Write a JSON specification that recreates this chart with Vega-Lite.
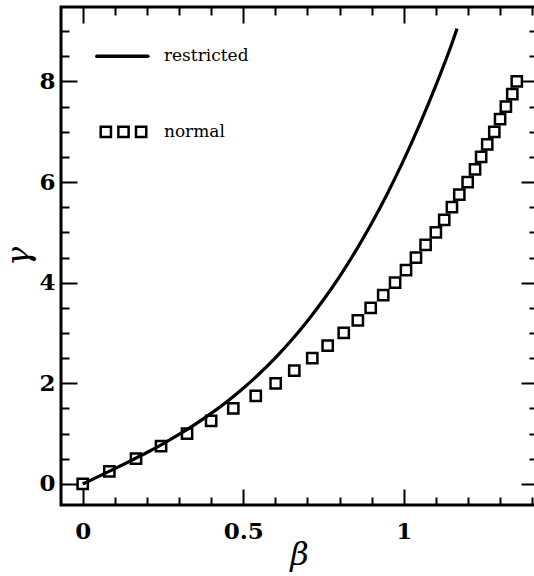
{
  "$schema": "https://vega.github.io/schema/vega-lite/v6.json",
  "width": 476,
  "height": 498,
  "autosize": {"type": "none"},
  "padding": {"left": 61, "top": 7, "right": -3, "bottom": 71},
  "background": "white",
  "config": {
    "view": {"stroke": "black", "strokeWidth": 3},
    "axis": {
      "domain": false,
      "grid": false,
      "tickColor": "black",
      "tickWidth": 2,
      "labelFont": "DejaVu Serif",
      "labelFontWeight": "bold",
      "labelFontSize": 23,
      "labelColor": "black",
      "titleColor": "black",
      "titleFont": "DejaVu Serif",
      "titleFontStyle": "italic",
      "titleFontWeight": "normal",
      "titleFontSize": 32
    }
  },
  "layer": [
    {
      "data": {"values": [
        {"b": 0, "g": 0}, {"b": 0.05, "g": 0.15}, {"b": 0.1, "g": 0.303}, {"b": 0.15, "g": 0.46},
        {"b": 0.2, "g": 0.623}, {"b": 0.25, "g": 0.797}, {"b": 0.3, "g": 0.982}, {"b": 0.35, "g": 1.183},
        {"b": 0.4, "g": 1.401}, {"b": 0.45, "g": 1.639}, {"b": 0.5, "g": 1.901}, {"b": 0.55, "g": 2.189},
        {"b": 0.6, "g": 2.506}, {"b": 0.65, "g": 2.855}, {"b": 0.7, "g": 3.239}, {"b": 0.75, "g": 3.66},
        {"b": 0.8, "g": 4.122}, {"b": 0.85, "g": 4.628}, {"b": 0.9, "g": 5.181}, {"b": 0.95, "g": 5.784},
        {"b": 1.0, "g": 6.44}, {"b": 1.05, "g": 7.152}, {"b": 1.1, "g": 7.923}, {"b": 1.15, "g": 8.755},
        {"b": 1.166, "g": 9.05}
      ]},
      "mark": {"type": "line", "color": "black", "strokeWidth": 3.2, "interpolate": "monotone"},
      "encoding": {
        "x": {"field": "b", "type": "quantitative", "scale": {"domain": [-0.0676, 1.415], "nice": false, "zero": false},
          "axis": {"orient": "bottom", "values": [0, 0.5, 1], "format": "~g", "tickSize": -16, "labelPadding": 31, "title": "β", "titlePadding": -4}},
        "y": {"field": "g", "type": "quantitative", "scale": {"domain": [-0.42, 9.48], "nice": false, "zero": false},
          "axis": {"orient": "left", "values": [0, 2, 4, 6, 8], "format": "~g", "tickSize": -16, "labelPadding": 22, "title": "γ", "titlePadding": 3}}
      }
    },
    {
      "data": {"values": [
        {"b": 0, "g": 0}, {"b": 0.083, "g": 0.25}, {"b": 0.166, "g": 0.5}, {"b": 0.244, "g": 0.75},
        {"b": 0.325, "g": 1.0}, {"b": 0.4, "g": 1.25}, {"b": 0.469, "g": 1.5}, {"b": 0.539, "g": 1.75},
        {"b": 0.601, "g": 2.0}, {"b": 0.659, "g": 2.25}, {"b": 0.715, "g": 2.5}, {"b": 0.763, "g": 2.75},
        {"b": 0.813, "g": 3.0}, {"b": 0.857, "g": 3.25}, {"b": 0.897, "g": 3.5}, {"b": 0.936, "g": 3.75},
        {"b": 0.973, "g": 4.0}, {"b": 1.007, "g": 4.25}, {"b": 1.038, "g": 4.5}, {"b": 1.068, "g": 4.75},
        {"b": 1.1, "g": 5.0}, {"b": 1.126, "g": 5.25}, {"b": 1.15, "g": 5.5}, {"b": 1.173, "g": 5.75},
        {"b": 1.199, "g": 6.0}, {"b": 1.222, "g": 6.25}, {"b": 1.241, "g": 6.5}, {"b": 1.26, "g": 6.75},
        {"b": 1.282, "g": 7.0}, {"b": 1.3, "g": 7.25}, {"b": 1.318, "g": 7.5}, {"b": 1.338, "g": 7.75},
        {"b": 1.352, "g": 8.0}
      ]},
      "mark": {"type": "point", "shape": "square", "filled": false, "stroke": "black", "strokeWidth": 2.5, "size": 105, "opacity": 1},
      "encoding": {
        "x": {"field": "b", "type": "quantitative", "scale": {"domain": [-0.0676, 1.415], "nice": false, "zero": false},
          "axis": {"orient": "top", "values": [0, 0.5, 1], "tickSize": -16, "labels": false, "title": null}},
        "y": {"field": "g", "type": "quantitative", "scale": {"domain": [-0.42, 9.48], "nice": false, "zero": false},
          "axis": {"orient": "right", "values": [0, 2, 4, 6, 8], "tickSize": -16, "labels": false, "title": null}}
      }
    },
    {
      "data": {"values": [{"b": 0.044, "g": 8.5}, {"b": 0.203, "g": 8.5}]},
      "mark": {"type": "line", "color": "black", "strokeWidth": 3.5, "strokeCap": "round"},
      "encoding": {
        "x": {"field": "b", "type": "quantitative", "scale": {"domain": [-0.0676, 1.415], "nice": false, "zero": false},
          "axis": {"orient": "bottom", "values": [0.1, 0.2, 0.3, 0.4, 0.6, 0.7, 0.8, 0.9, 1.1, 1.2, 1.3, 1.4], "tickSize": -8, "labels": false, "title": null}},
        "y": {"field": "g", "type": "quantitative", "scale": {"domain": [-0.42, 9.48], "nice": false, "zero": false},
          "axis": {"orient": "left", "values": [0.5, 1, 1.5, 2.5, 3, 3.5, 4.5, 5, 5.5, 6.5, 7, 7.5, 8.5, 9], "tickSize": -8, "labels": false, "title": null}}
      }
    },
    {
      "data": {"values": [{"b": 0.072, "g": 7.0}, {"b": 0.127, "g": 7.0}, {"b": 0.182, "g": 7.0}]},
      "mark": {"type": "point", "shape": "square", "filled": false, "stroke": "black", "strokeWidth": 2.5, "size": 105, "opacity": 1},
      "encoding": {
        "x": {"field": "b", "type": "quantitative", "scale": {"domain": [-0.0676, 1.415], "nice": false, "zero": false},
          "axis": {"orient": "top", "values": [0.1, 0.2, 0.3, 0.4, 0.6, 0.7, 0.8, 0.9, 1.1, 1.2, 1.3, 1.4], "tickSize": -8, "labels": false, "title": null}},
        "y": {"field": "g", "type": "quantitative", "scale": {"domain": [-0.42, 9.48], "nice": false, "zero": false},
          "axis": {"orient": "right", "values": [0.5, 1, 1.5, 2.5, 3, 3.5, 4.5, 5, 5.5, 6.5, 7, 7.5, 8.5, 9], "tickSize": -8, "labels": false, "title": null}}
      }
    },
    {
      "data": {"values": [{"b": 0.253, "g": 8.5, "label": "restricted"}, {"b": 0.253, "g": 7.0, "label": "normal"}]},
      "mark": {"type": "text", "align": "left", "baseline": "middle", "font": "DejaVu Serif", "fontSize": 17, "color": "black"},
      "encoding": {
        "x": {"field": "b", "type": "quantitative", "scale": {"domain": [-0.0676, 1.415], "nice": false, "zero": false}, "axis": null},
        "y": {"field": "g", "type": "quantitative", "scale": {"domain": [-0.42, 9.48], "nice": false, "zero": false}, "axis": null},
        "text": {"field": "label"}
      }
    }
  ],
  "resolve": {"axis": {"x": "independent", "y": "independent"}}
}
